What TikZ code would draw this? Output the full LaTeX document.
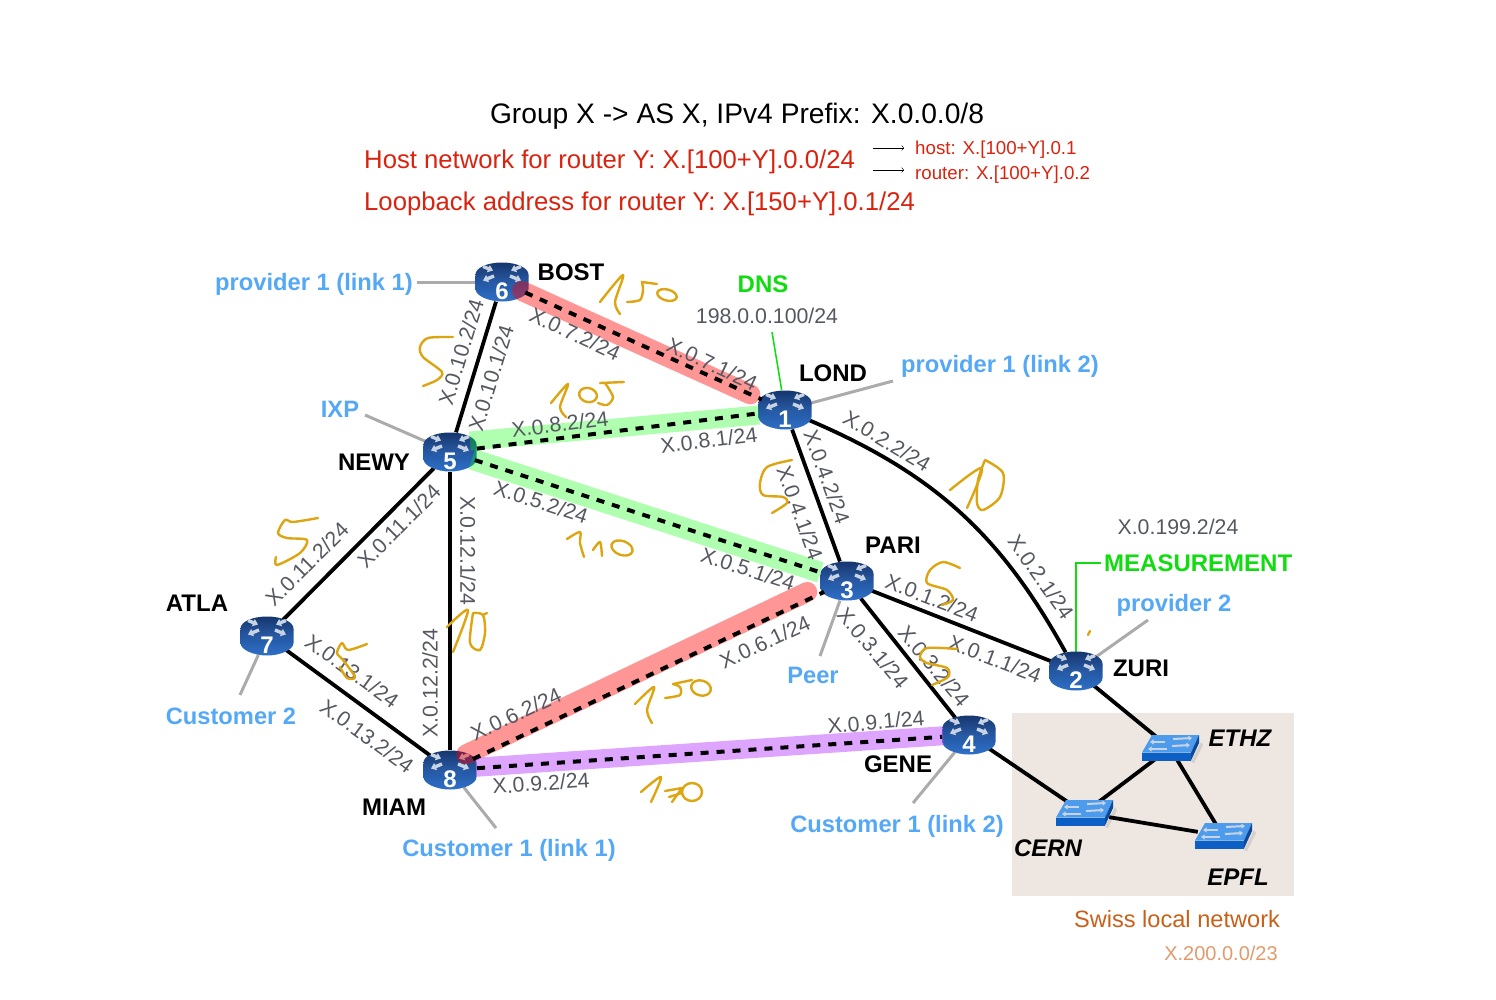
\documentclass[tikz,border=0pt]{standalone}
\usepackage{fontspec}
\setmainfont{Liberation Sans}
\usetikzlibrary{arrows.meta,backgrounds,shapes.geometric}

\definecolor{routertop}{HTML}{16366E}
\definecolor{routermid}{HTML}{2C62B0}
\definecolor{routerlow}{HTML}{2F70C8}
\definecolor{routerside}{HTML}{204E96}
\definecolor{routerx}{HTML}{C8D4E4}
\definecolor{swtop}{HTML}{4C9BEC}
\definecolor{swfront}{HTML}{0C5FC4}
\definecolor{swside}{HTML}{0A4A9C}
\definecolor{labelblue}{HTML}{55A8F5}
\definecolor{labelgreen}{HTML}{10DC10}
\definecolor{labelred}{HTML}{D9230F}
\definecolor{labelgray}{HTML}{555860}
\definecolor{stubgray}{HTML}{ABABAB}
\definecolor{handgold}{HTML}{DDA511}
\definecolor{swissbox}{HTML}{EEE6E1}
\definecolor{swissbrown}{HTML}{C8601A}
\definecolor{swissnet}{HTML}{E29A6A}
\definecolor{bandpurple}{HTML}{BE4BFF}

\newcommand{\px}[1]{\fontsize{#1}{#1}\selectfont}

\tikzset{
  routernode/.style={ellipse,minimum width=54pt,minimum height=40pt,inner sep=0pt,text=white,font=\px{24}\bfseries},
  switchnode/.style={minimum width=50pt,minimum height=22pt,inner sep=0pt},
  link/.style={line width=3.8pt,black},
  ospf/.style={line width=4pt,black,dash pattern=on 8pt off 8pt},
  stub/.style={line width=3pt,stubgray},
  wire/.style={line width=1.5pt,labelgreen},
  iface/.style={text=labelgray,font=\px{21.3},inner sep=0pt},
  rname/.style={font=\px{24}\bfseries,inner sep=0pt},
  swname/.style={font=\px{24}\bfseries\itshape,inner sep=0pt},
  peer/.style={text=labelblue,font=\px{23.7}\bfseries,inner sep=0pt},
  hand/.style={draw=handgold,line width=2.4pt,line cap=round,line join=round},
  toptext/.style={text=labelred,font=\px{25.7},inner sep=0pt,anchor=west},
  smalltext/.style={text=labelred,font=\px{18.7},inner sep=0pt,anchor=west},
}

% one router, body first and then its named node
\newcommand{\router}[3]{
  \begin{scope}[shift={(#2,#3)}]
    \shade[top color=routerside,bottom color=routerlow]
      (-26.5,-7) -- (-26.5,7) .. controls (-26.5,14) and (-13,19.5) .. (0,19.5)
      .. controls (13,19.5) and (26.5,14) .. (26.5,7) -- (26.5,-7) -- cycle;
    \shade[top color=routertop,bottom color=routermid] (0,-7.5) ellipse [x radius=26.5,y radius=12];
    \foreach \sx in {-1,1} {
      \draw[routerx,line width=3.4pt,-{Triangle[length=5pt,width=7.5pt]}] (\sx*19,-15.5) -- (\sx*9,-11.5);
      \draw[routerx,line width=3.4pt,{Triangle[length=5pt,width=7.5pt]}-] (\sx*19,-1.5) -- (\sx*8,-6);
    }
  \end{scope}
  \node[routernode] (r#1) at (#2,#3) {\smash{\raisebox{-17.5pt}{#1}}};
}

% one switch, body first and then its named node
\newcommand{\switchbox}[3]{
  \begin{scope}[shift={(#2,#3)}]
    \fill[black,opacity=.1] (21,14) -- (31,-6) -- (33,-3) -- (24,15) -- cycle;
    \fill[swtop] (-18,-13) -- (29,-13) -- (21,4.5) -- (-28,4.5) -- cycle;
    \fill[swfront] (-28,4.5) -- (21,4.5) -- (21,12.5) -- (-28,12.5) -- cycle;
    \fill[swside] (21,4.5) -- (29,-13) -- (29,-5) -- (21,12.5) -- cycle;
    \foreach \xa/\ya/\xb/\yb in {-5/-6/-20/-6,3/-9/22/-10,2/-2/20/-3,-3/1/-22/1}
      \draw[routerx,line width=2pt,-{Triangle[length=3.5pt,width=5pt]}] (\xa,\ya) -- (\xb,\yb);
  \end{scope}
  \node[switchnode] (#1) at (#2,#3) {};
}

\begin{document}
\begin{tikzpicture}[x=1pt,y=-1pt]
    \useasboundingbox (0,0) rectangle (1496,999);

    % routers and switches
    \foreach \n/\x/\y in {1/785/410,2/1076/671,3/847/581,4/969/735,5/450/452,6/502/282,7/267/636,8/450/770} {
        \router{\n}{\x}{\y}
    }
    \switchbox{ethz}{1170}{748}
    \switchbox{cern}{1084}{813}
    \switchbox{epfl}{1223}{836}

    % free ends
    \coordinate (p6) at (417,282);
    \coordinate (p1) at (893,381);
    \coordinate (ixp) at (365,415);
    \coordinate (p2) at (1148,620);
    \coordinate (peer3) at (820,656);
    \coordinate (c7) at (240,695);
    \coordinate (c8) at (496,828);
    \coordinate (c4) at (913,803);
    \coordinate (dnsend) at (772,332);
    \coordinate (measbend) at (1076,563);
    \coordinate (measend) at (1101,563);

    \begin{scope}[on background layer]
        \fill[swissbox] (1012,713) rectangle (1294,896);

        \draw[link] (r6) -- (r5);
        \draw[link] (r1) -- (r3);
        \draw[link] (r1) to[bend left=19] (r2);
        \draw[link] (r3) -- (r2);
        \draw[link] (r3) -- (r4);
        \draw[link] (r5) -- (r7);
        \draw[link] (r5) -- (r8);
        \draw[link] (r7) -- (r8);
        \draw[link] (r2) -- (ethz);
        \draw[link] (r4) -- (cern);
        \draw[link] (ethz) -- (cern);
        \draw[link] (ethz) -- (epfl);
        \draw[link] (cern) -- (epfl);

        \draw[stub] (p6) -- (r6);
        \draw[stub] (p1) -- (r1);
        \draw[stub] (ixp) -- (r5);
        \draw[stub] (p2) -- (r2);
        \draw[stub] (peer3) -- (r3);
        \draw[stub] (c7) -- (r7);
        \draw[stub] (c8) -- (r8);
        \draw[stub] (c4) -- (r4);

        \draw[wire] (dnsend) -- (r1);
        \draw[wire] (r2.center) -- (measbend) -- (measend);
    \end{scope}

    % highlighted links
    \draw[red,opacity=.41,line width=20pt,line cap=round,shorten <=22pt,shorten >=38pt] (r6.center) -- (r1.center);
    \draw[red,opacity=.41,line width=20pt,line cap=round,shorten <=18pt,shorten >=44pt]
        ([yshift=8pt]r8.center) -- ([yshift=8pt]r3.center);
    \draw[green,opacity=.31,line width=19pt] ([xshift=20pt,yshift=11pt]r5.center) -- ([xshift=-26pt,yshift=-5pt]r1.center);
    \draw[green,opacity=.31,line width=21pt,shorten <=23pt,shorten >=28pt] (r5.center) -- (r3.center);
    \draw[bandpurple,opacity=.5,line width=19pt,shorten <=26pt,shorten >=26pt]
        ([yshift=1pt]r8.center) -- ([yshift=1pt]r4.center);

    \draw[ospf] (r6) -- (r1);
    \draw[ospf] (r5) -- (r1);
    \draw[ospf] (r5) -- (r3);
    \draw[ospf] (r8) -- (r3);
    \draw[ospf] (r8) -- (r4);

    % interface addresses
    \foreach \n/\x/\y/\r/\t in {
        a/461/352/73/X.0.10.2, b/491/378/73/X.0.10.1,
        c/575/334/-25/X.0.7.2, d/712/364/-25/X.0.7.1,
        e/560/424/7/X.0.8.2, f/709/440/7/X.0.8.1,
        g/541/502/-18/X.0.5.2, h/748/569/-18/X.0.5.1,
        i/827/477/-70/X.0.4.2, j/800/513/-70/X.0.4.1,
        k/887/441/-31/X.0.2.2, l/1041/577/-55/X.0.2.1,
        m/932/598/-21/X.0.1.2, n/995/659/-21/X.0.1.1,
        o/873/648/-50/X.0.3.1, q/934/666/-50/X.0.3.2,
        s/876/722/5/X.0.9.1, t/541/783/4/X.0.9.2,
        u/516/714/25/X.0.6.2, v/765/642/25/X.0.6.1,
        w/307/564/45/X.0.11.2, x/399/526/45/X.0.11.1,
        y/468/551/-90/X.0.12.1, z/430/683/90/X.0.12.2,
        aa/352/671/-36/X.0.13.1, ab/367/736/-36/X.0.13.2}
        \node[iface,rotate=\r] (if\n) at (\x,\y) {\t/24};

    % router names
    \foreach \n/\x/\y in {BOST/571/272,LOND/833/373,NEWY/374/462,PARI/893/545,ATLA/197/603,ZURI/1141/668,GENE/898/764,MIAM/394/807}
        \node[rname] (name\n) at (\x,\y) {\n};
    \foreach \n/\x/\y in {ETHZ/1240/738,CERN/1048/848,EPFL/1238/877}
        \node[swname] (name\n) at (\x,\y) {\n};

    % peers and customers
    \node[peer] (lp6) at (314,284) {provider 1 (link 1)};
    \node[peer] (lp1) at (1000,366) {provider 1 (link 2)};
    \node[peer] (lixp) at (340,409) {IXP};
    \node[peer] (lp2) at (1174,605) {provider 2};
    \node[peer] (lpeer) at (813,675) {Peer};
    \node[peer] (lc7) at (231,716) {Customer 2};
    \node[peer] (lc8) at (509,850) {Customer 1 (link 1)};
    \node[peer] (lc4) at (897,826) {Customer 1 (link 2)};

    % services
    \node[text=labelgreen,font=\px{24}\bfseries,inner sep=0pt] (dns) at (763,284) {DNS};
    \node[iface] (dnsip) at (767,316) {198.0.0.100/24};
    \node[text=labelgreen,font=\px{24}\bfseries,inner sep=0pt,anchor=west] (meas) at (1104,563) {MEASUREMENT};
    \node[iface] (measip) at (1178,527) {X.0.199.2/24};

    % header
    \node[font=\px{28.2},inner sep=0pt] (title) at (737,116) {Group X -> AS X, IPv4 Prefix: X.0.0.0/8};
    \node[toptext] (hostline) at (364,162) {Host network for router Y: X.[100+Y].0.0/24};
    \node[toptext] (loopline) at (364,204) {Loopback address for router Y: X.[150+Y].0.1/24};
    \node[smalltext] (hostip) at (915,150) {host: X.[100+Y].0.1};
    \node[smalltext] (routerip) at (915,175) {router: X.[100+Y].0.2};
    \coordinate (ha) at (873,148);
    \coordinate (hb) at (904,148);
    \coordinate (ra) at (873,170);
    \coordinate (rb) at (904,170);
    \draw[->] (ha) -- (hb);
    \draw[->] (ra) -- (rb);

    % swiss network
    \node[text=swissbrown,font=\px{23.6},inner sep=0pt] (swiss) at (1177,919) {Swiss local network};
    \node[text=swissnet,font=\px{20},inner sep=0pt] (swissip) at (1221,953) {X.200.0.0/23};

    % hand written weights
    \draw[hand] plot[smooth] coordinates {(600,302) (623,275) (615,302) (620,314)};
    \draw[hand] plot[smooth] coordinates {(627,302) (640,300) (643,290) (642,282)};
    \draw[hand] (642,282) -- (657,284);
    \draw[hand,rotate around={-15:(667,295)}] (667,295) ellipse [x radius=10,y radius=5.5];

    \draw[hand] plot[smooth] coordinates {(453,337) (428,338) (420,347) (423,357) (442,372) (437,380) (423,386)};

    \draw[hand] plot[smooth] coordinates {(551,403) (568,384) (560,407) (566,417)};
    \draw[hand,rotate around={-15:(588,395)}] (588,395) ellipse [x radius=9,y radius=7];
    \draw[hand] (600,383) -- (624,382);
    \draw[hand] plot[smooth] coordinates {(605,383) (613,397) (607,405) (598,403)};

    \draw[hand] plot[smooth] coordinates {(792,460) (767,467) (760,483) (763,495) (783,497) (787,503) (772,513)};

    \draw[hand] plot[smooth] coordinates {(950,490) (982,468) (967,508)};
    \draw[hand] plot[smooth] coordinates {(985,460) (1003,473) (1000,497) (983,510) (977,503) (978,480) (985,460)};

    \draw[hand] plot[smooth] coordinates {(960,568) (943,562) (930,570) (927,583) (947,590) (953,600) (942,605)};
    \draw[hand] plot[smooth] coordinates {(957,649) (927,648) (920,657) (927,663) (947,668) (948,677) (932,685)};
    \draw[hand] (1090,631) -- (1088,635);

    \draw[hand] plot[smooth] coordinates {(318,518) (293,522) (285,520) (278,533) (287,538) (307,540) (300,553) (277,565) (276,557)};
    \draw[hand] plot[smooth] coordinates {(367,644) (348,650) (342,643) (337,653) (343,660) (355,677) (347,678) (340,667)};

    \draw[hand] plot[smooth] coordinates {(447,627) (468,610) (453,652)};
    \draw[hand] plot[smooth] coordinates {(473,613) (483,615) (485,633) (480,650) (470,643) (473,613)};
    \draw[hand] (483,615) -- (487,613);

    \draw[hand] plot[smooth] coordinates {(567,539) (580,532) (580,543) (584,557)};
    \draw[hand] plot[smooth] coordinates {(593,550) (600,542) (602,556)};
    \draw[hand,rotate around={-20:(622,548)}] (622,548) ellipse [x radius=11,y radius=7];

    \draw[hand] plot[smooth] coordinates {(635,704) (654,687) (647,710) (652,723)};
    \draw[hand] plot[smooth] coordinates {(665,698) (680,695) (680,687) (673,684)};
    \draw[hand] (673,684) -- (692,680);
    \draw[hand,rotate around={-15:(701,688)}] (701,688) ellipse [x radius=10,y radius=7.5];

    \draw[hand] plot[smooth] coordinates {(641,792) (661,777) (651,802)};
    \draw[hand] (665,791) -- (682,788) -- (672,802);
    \draw[hand] (669,797) -- (682,793);
    \draw[hand] (692,792) ellipse [x radius=10,y radius=9];

\end{tikzpicture}
\end{document}
